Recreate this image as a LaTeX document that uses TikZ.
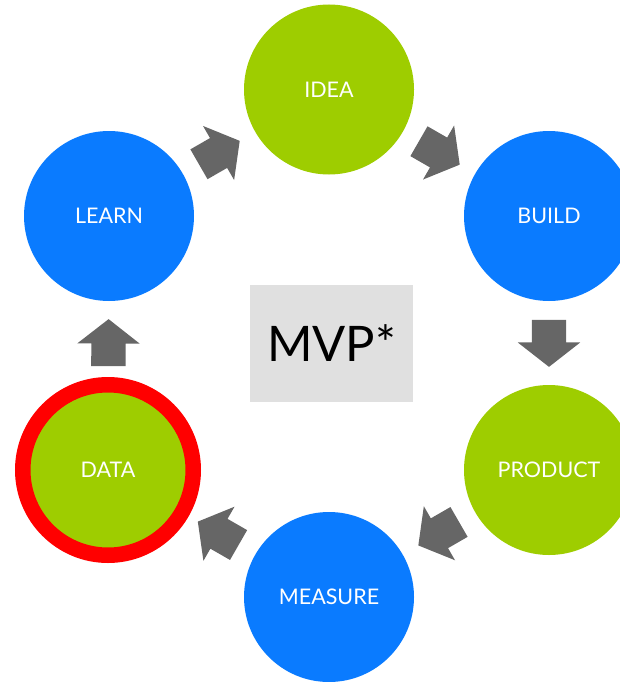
\documentclass[tikz,border=0pt]{standalone}
\usepackage{fontspec}
\setmainfont{Lato}
\usetikzlibrary{shapes.arrows}
\definecolor{leafgreen}{HTML}{9ECD00}
\definecolor{skyblue}{HTML}{0A7BFF}
\definecolor{arrowgray}{HTML}{666666}
\definecolor{boxgray}{HTML}{E0E0E0}
\tikzset{
  step node/.style={circle, minimum size=170pt, inner sep=0pt, text=white,
    font=\fontsize{21.5}{26}\selectfont},
  green node/.style={step node, fill=leafgreen},
  blue node/.style={step node, fill=skyblue},
  block arrow/.style={single arrow, fill=arrowgray, inner xsep=0pt, inner ysep=17pt,
    minimum height=47pt, minimum width=62pt, single arrow head extend=14pt,
    single arrow tip angle=104, sloped, allow upside down, pos=0.475}
}
\begin{document}
\begin{tikzpicture}[x=1pt, y=-1pt]
\useasboundingbox (0,0) rectangle (620,682);
\node [green node] (idea) at (329,89.5) {IDEA};
\node [blue node] (build) at (549,216) {BUILD};
\node [green node] (product) at (549,470) {PRODUCT};
\node [blue node] (measure) at (329,597) {MEASURE};
\node [green node, minimum size=170.5pt, draw=red, line width=15.5pt] (data) at (108,470) {DATA};
\node [blue node] (learn) at (109,216) {LEARN};
\node [fill=boxgray, minimum width=163pt, minimum height=117pt, inner sep=0pt,
  font=\fontsize{49}{56}\selectfont] (mvp) at (331.5,343.5) {MVP*};
\path (learn.center) -- node [block arrow] {} (idea.center);
\path (idea.center) -- node [block arrow] {} (build.center);
\path (build.center) -- node [block arrow] {} (product.center);
\path (product.center) -- node [block arrow] {} (measure.center);
\path (measure.center) -- node [block arrow] {} (data.center);
\path (data.center) -- node [block arrow] {} (learn.center);
\end{tikzpicture}
\end{document}
